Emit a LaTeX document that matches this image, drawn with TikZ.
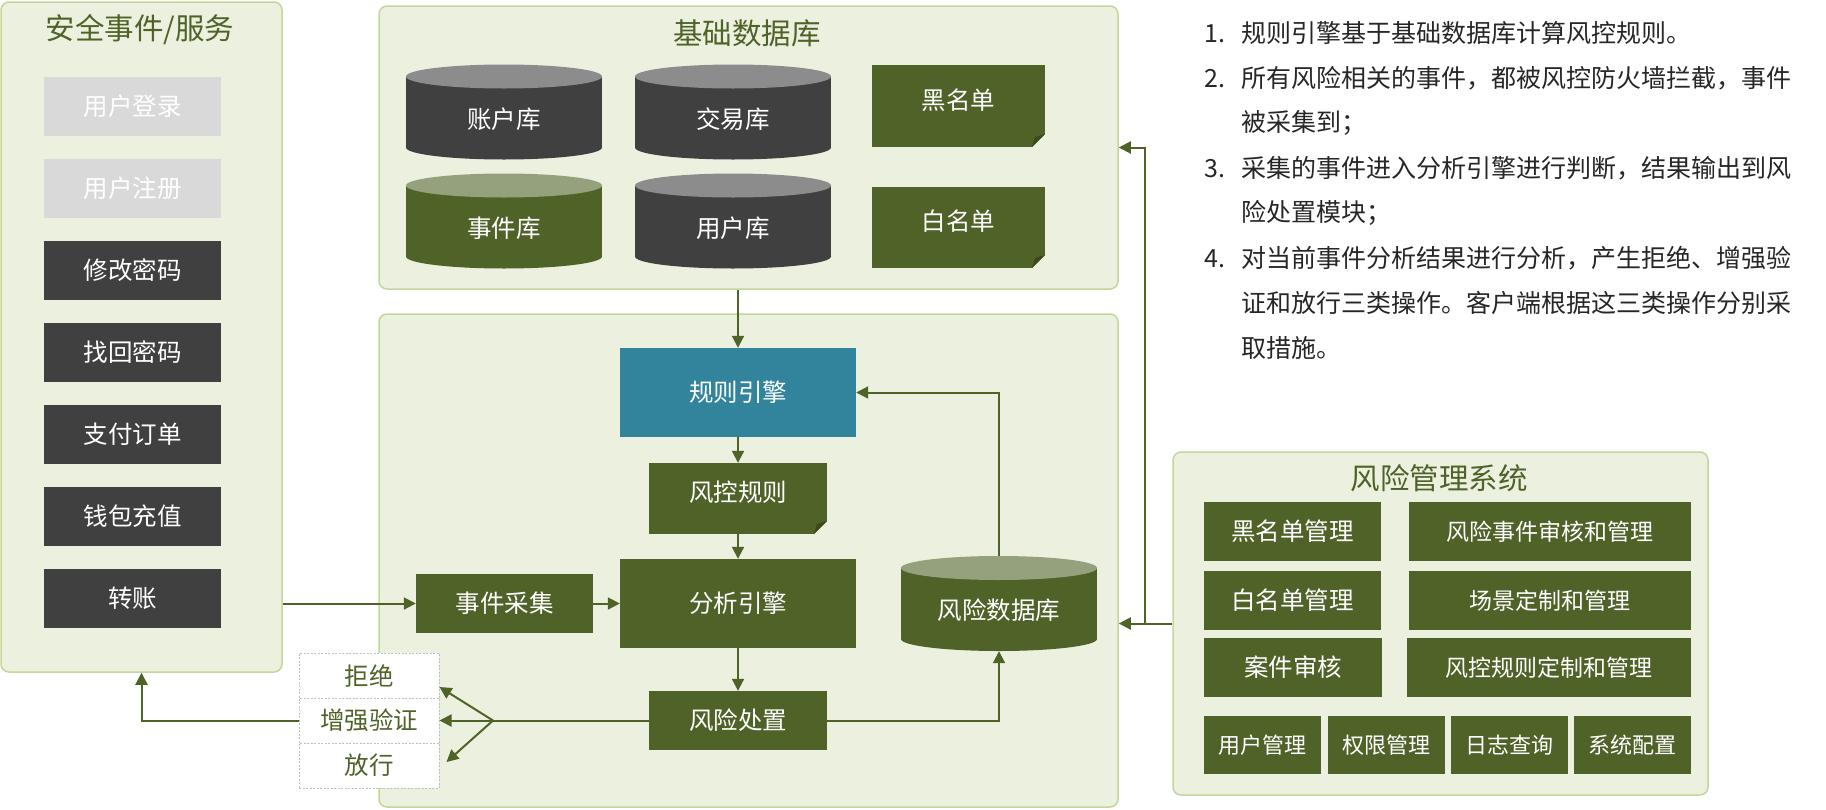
\documentclass[tikz,border=0pt]{standalone}
\usepackage{fontspec}
\newfontfamily\cjkfont{Noto Sans CJK SC}
\usetikzlibrary{arrows.meta,calc}

\definecolor{panelbg}{HTML}{EBF1DE}
\definecolor{panelline}{HTML}{C3D69B}
\definecolor{olive}{HTML}{4F6228}
\definecolor{folddark}{HTML}{3A4A1C}
\definecolor{boxgray}{HTML}{404040}
\definecolor{boxlight}{HTML}{D9D9D9}
\definecolor{topgray}{HTML}{8C8C8C}
\definecolor{topgreen}{HTML}{95A07C}
\definecolor{engteal}{HTML}{31849B}
\definecolor{dashgray}{HTML}{BFBFBF}

\newcommand\setfs[1]{\fontsize{#1}{#1}\selectfont}

\tikzset{
  panel/.style={fill=panelbg, draw=panelline, line width=1.5pt, rounded corners=8pt},
  paneltitle/.style={text=olive, font=\cjkfont\setfs{29.5}},
  tagbox/.style={fill=#1, text=white, inner sep=0pt, font=\cjkfont\setfs{24.5}},
  notebox/.style={tagbox=olive, text height=21pt, text depth=15pt,
    path picture={
      \fill[panelbg] (path picture bounding box.south east) -- ++(-13,0) -- ++(13,-13) -- cycle;
      \fill[folddark] ($(path picture bounding box.south east)+(-13,0)$) -- ++(13,-13) -- ++(-10,3) -- cycle;
    }},
  dbcyl/.style 2 args={minimum width=196, minimum height=95, inner sep=0pt, text=white,
    font=\cjkfont\setfs{24.5}, text height=35pt, text depth=3pt,
    path picture={
      \fill[#1] ($(path picture bounding box.north west)+(0,12)$) rectangle ($(path picture bounding box.south east)+(0,-12)$);
      \fill[#1] ($(path picture bounding box.south)+(0,-12)$) ellipse [x radius=98, y radius=12];
      \fill[#2] ($(path picture bounding box.north)+(0,12)$) ellipse [x radius=98, y radius=12];
    }},
  actbox/.style={fill=white, draw=dashgray, line width=1pt, dash pattern=on 2pt off 1.5pt,
    minimum width=140, minimum height=45, inner sep=0pt, text=olive, font=\cjkfont\setfs{24.5}},
  notetext/.style={anchor=west, inner sep=0pt, text=black!85, font=\cjkfont\setfs{25}},
  flowline/.style={draw=olive, line width=2pt},
  flow/.style={flowline, -{Triangle[length=12pt,width=12pt]}}
}

\begin{document}
\begin{tikzpicture}[x=1pt,y=-1pt]
  \useasboundingbox (0,0) rectangle (1826,809);

  % panels
  \node[panel, minimum width=281, minimum height=670] (svcpanel) at (141.5,337) {};
  \node[paneltitle] (svctitle) at (140,30) {安全事件/服务};
  \node[panel, minimum width=739, minimum height=283] (basepanel) at (748.5,147.5) {};
  \node[paneltitle] (basetitle) at (747,33) {基础数据库};
  \node[panel, minimum width=739, minimum height=493] (mainpanel) at (748.5,560.5) {};
  \node[panel, minimum width=535, minimum height=343] (mgmtpanel) at (1440.5,623.5) {};
  \node[paneltitle] (mgmttitle) at (1439,478) {风险管理系统};

  % services
  \foreach \txt [count=\i] in {用户登录,用户注册,修改密码,找回密码,支付订单,钱包充值,转账}{
    \ifnum\i<3 \def\clr{boxlight}\else\def\clr{boxgray}\fi
    \node[tagbox=\clr, minimum width=177, minimum height=59] (svc\i) at (132.5,24.5+82*\i) {\txt};
  }

  % base data
  \node[dbcyl={boxgray}{topgray}] (acctdb) at (504,112) {账户库};
  \node[dbcyl={boxgray}{topgray}] (tradedb) at (733,112) {交易库};
  \node[dbcyl={olive}{topgreen}] (eventdb) at (504,221) {事件库};
  \node[dbcyl={boxgray}{topgray}] (userdb) at (733,221) {用户库};
  \node[notebox, minimum width=173, minimum height=82] (blacklist) at (958.5,106) {黑名单};
  \node[notebox, minimum width=173, minimum height=81] (whitelist) at (958.5,227.5) {白名单};

  % engine
  \node[tagbox=engteal, minimum width=236, minimum height=89] (ruleeng) at (738,392.5) {规则引擎};
  \node[notebox, minimum width=178, minimum height=71] (rules) at (738,498.5) {风控规则};
  \node[tagbox=olive, minimum width=236, minimum height=89] (anaeng) at (738,603.5) {分析引擎};
  \node[tagbox=olive, minimum width=177, minimum height=59] (collect) at (504.5,603.5) {事件采集};
  \node[tagbox=olive, minimum width=178, minimum height=59] (dispose) at (738,720.5) {风险处置};
  \node[dbcyl={olive}{topgreen}] (riskdb) at (999,603.5) {风险数据库};

  \node[actbox] (reject) at (369,675.5) {拒绝};
  \node[actbox] (verify) at (369,720.5) {增强验证};
  \node[actbox] (pass) at (369,765.5) {放行};

  % management
  \node[tagbox=olive, minimum width=177, minimum height=59] (mblack) at (1292.5,531.5) {黑名单管理};
  \node[tagbox=olive, minimum width=282, minimum height=59, font=\cjkfont\setfs{23}] (mevent) at (1550,531.5) {风险事件审核和管理};
  \node[tagbox=olive, minimum width=177, minimum height=59] (mwhite) at (1292.5,600.5) {白名单管理};
  \node[tagbox=olive, minimum width=282, minimum height=59, font=\cjkfont\setfs{23}] (mscene) at (1550,600.5) {场景定制和管理};
  \node[tagbox=olive, minimum width=178, minimum height=59] (mcase) at (1293,667.5) {案件审核};
  \node[tagbox=olive, minimum width=284, minimum height=59, font=\cjkfont\setfs{23}] (mrule) at (1549,667.5) {风控规则定制和管理};
  \foreach \txt [count=\i] in {用户管理,权限管理,日志查询,系统配置}
    \node[tagbox=olive, minimum width=117, minimum height=58, font=\cjkfont\setfs{22}] (msys\i) at (1139.5+123.3*\i,745) {\txt};

  % notes
  \foreach \num/\i in {1/0,2/1,3/3,4/5}
    \node[notetext] (num\num) at (1204,33.3+45*\i) {\num.};
  \foreach \txt [count=\i from 0] in {规则引擎基于基础数据库计算风控规则。,
      所有风险相关的事件，都被风控防火墙拦截，事件,被采集到；,
      采集的事件进入分析引擎进行判断，结果输出到风,险处置模块；,
      对当前事件分析结果进行分析，产生拒绝、增强验,
      证和放行三类操作。客户端根据这三类操作分别采,取措施。}
    \node[notetext] (note\i) at (1241,33.3+45*\i) {\txt};

  % connectors
  \draw[flow] (basepanel.south -| ruleeng.north) -- (ruleeng.north);
  \draw[flow] (ruleeng) -- (rules);
  \draw[flow] (rules) -- (anaeng);
  \draw[flow] (anaeng) -- (dispose);
  \draw[flow] (collect) -- (anaeng);
  \draw[flow] (svcpanel.east |- collect) -- (collect);
  \draw[flow] (dispose) -| (riskdb);
  \draw[flow] (riskdb) |- (ruleeng);

  \coordinate (fork) at (493,720.5);
  \draw[flowline] (dispose) -- (fork);
  \draw[flow] (fork) -- ([yshift=-11.5pt]reject.east);
  \draw[flow] (fork) -- (verify.east);
  \draw[flow] (fork) -- ([xshift=7pt,yshift=3.5pt]pass.east);
  \draw[flow] (verify) -| (svcpanel);

  \coordinate (jn) at (1145,623.5);
  \draw[flow] (mgmtpanel) -- (mgmtpanel -| mainpanel.east);
  \draw[flow] (jn) |- (basepanel);
\end{tikzpicture}
\end{document}
